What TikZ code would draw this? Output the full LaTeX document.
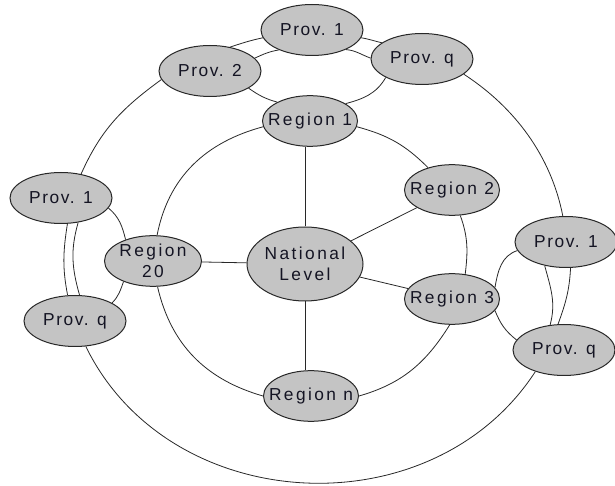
\documentclass[tikz,border=0pt]{standalone}
\usepackage{fontspec}
\setmainfont{Liberation Sans}
\newfontfamily\provfont{Liberation Sans}[LetterSpace=9]
\newfontfamily\regfont{Liberation Sans}[LetterSpace=14]
\usetikzlibrary{shapes.geometric,backgrounds}
\definecolor{nodefill}{RGB}{196,196,196}
\definecolor{inkline}{RGB}{40,40,40}
\definecolor{inktext}{RGB}{20,20,35}

\begin{document}
\begin{tikzpicture}[x=0.75pt,y=0.75pt,
  oval/.style={ellipse, draw=inkline, line width=0.75pt, fill=nodefill,
    inner sep=-12pt, text=inktext, align=center},
  prov/.style={oval, minimum width=76.5pt, minimum height=38.25pt,
    font=\provfont\fontsize{13}{15.75}\selectfont},
  region/.style={oval, minimum width=71.25pt, minimum height=38pt,
    font=\regfont\fontsize{13}{15.75}\selectfont},
  national/.style={oval, minimum width=87pt, minimum height=55.5pt,
    font=\regfont\fontsize{13}{15.75}\selectfont},
  link/.style={draw=inkline, line width=0.6pt}
]
\useasboundingbox (0,0) rectangle (615,486);

% national level and regions
\node[national] (NL) at (305,222) {National\\Level};
\node[region] (R1) at (310,365) {Region 1};
\node[region] (R2) at (452,296) {Region 2};
\node[region] (R3) at (452,187) {Region 3};
\node[region] (Rn) at (311,90) {Region n};
\node[region, minimum width=72.75pt] (R20) at (153,225) {Region\\20};

% provinces
\node[prov] (P1t) at (312,456) {Prov. 1};
\node[prov] (P2t) at (210,415) {Prov. 2};
\node[prov] (Pqt) at (422,427) {Prov. q};
\node[prov] (P1l) at (61,288) {Prov. 1};
\node[prov] (Pql) at (75,165) {Prov. q};
\node[prov] (P1r) at (566,244) {Prov. 1};
\node[prov] (Pqr) at (564,136) {Prov. q};

\begin{pgfonlayer}{background}
% spokes from the national level
\draw[link] (NL.north) -- (NL.north |- R1.south);
\draw[link] (NL.south) -- (NL.south |- Rn.north);
\draw[link] (NL) -- (R2);
\draw[link] (NL) -- (R3);
\draw[link] (NL) -- (R20);

% ring of regions
\draw[link] (R1.-7) to[out=-15,in=135] (R2.137);
\draw[link] (R2.-72) to[out=-70,in=83] (R3.62);
\draw[link] (R3.-95) to[out=-122,in=16] (Rn.0);
\draw[link] (Rn.180) to[out=164,in=-77] (R20.-80);
\draw[link] (R20.81) to[out=79,in=195] (R1.187);

% outer ring of provinces
\draw[link] (P2t.190) to[out=216,in=66] (P1l.50);
\draw[link] (P1l.-76) to[out=-99,in=101] (Pql.106);
\draw[link] (Pql.-67) to[out=-64,in=-123,looseness=1.08] (Pqr.217);
\draw[link] (Pqr.103) to[out=70,in=-93] (P1r.-80);
\draw[link] (P1r.97) to[out=101,in=-33,looseness=0.9] (Pqt.-20);
\draw[link] (Pqt.158) to[out=167,in=-9] (P1t.-9);
\draw[link] (P1t.189) to[out=192,in=18] (P2t.50);

% provinces of region 1
\draw[link] (R1.150) to[out=165,in=-35] (P2t.-24);
\draw[link] (R1.26) to[out=15,in=-120] (Pqt.207);
\draw[link] (P2t.16) to[out=25,in=190] (P1t.211);
\draw[link] (P1t.-30) to[out=-5,in=160] (Pqt.179);

% provinces of region 20
\draw[link] (P1l.-12) to[out=-40,in=104] (R20.142);
\draw[link] (Pql.26) to[out=45,in=-110] (R20.215);
\draw[link] (P1l.-55) to[out=-106,in=106] (Pql.80);

% provinces of region 3
\draw[link] (R3.15) to[out=80,in=198] (P1r.190);
\draw[link] (R3.-15) to[out=-68,in=142] (Pqr.168);
\draw[link] (P1r.228) to[out=-75,in=75] (Pqr.119);
\end{pgfonlayer}
\end{tikzpicture}
\end{document}
